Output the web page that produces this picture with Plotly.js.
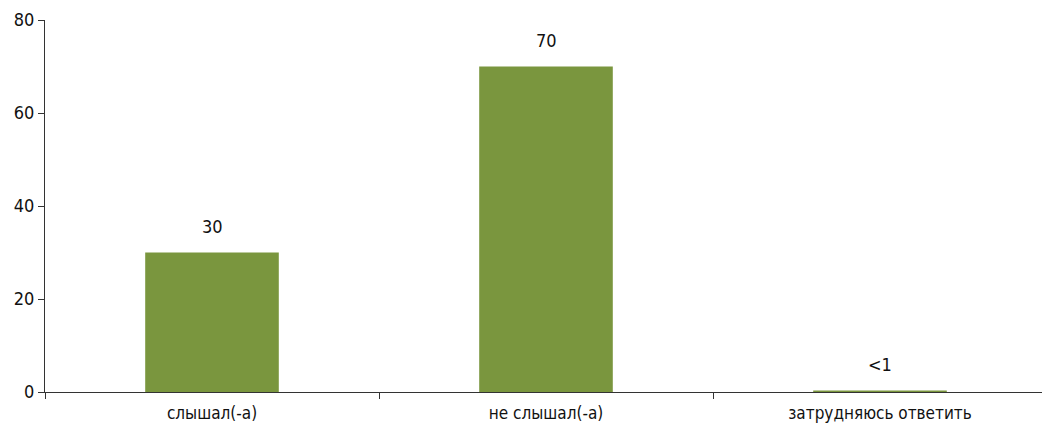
<!DOCTYPE html>
<html>
<head>
<meta charset="utf-8">
<script src="https://cdn.plot.ly/plotly-3.0.1.min.js"></script>
<style>html,body{margin:0;padding:0;background:#fff;overflow:hidden}</style>
</head>
<body>
<div id="chart" style="width:1047px;height:432px"></div>
<script>
const categories = ["слышал(-а)", "не слышал(-а)", "затрудняюсь ответить"];
const values = [30, 70, 0.3];
const valueLabels = ["30", "70", "<1"];
const yTicks = [0, 20, 40, 60, 80];

const FONT = "'DejaVu Sans Condensed', 'Open Sans', sans-serif";

const trace = {
  type: "bar",
  x: categories,
  y: values,
  marker: {color: "#7a963e"},
  hoverinfo: "skip"
};

const annotations = categories.map((c, i) => ({
  x: c, y: values[i], xref: "x", yref: "y",
  text: valueLabels[i], showarrow: false,
  yanchor: "bottom", yshift: 14,
  font: {family: FONT, size: 18, color: "#111"}
}));

const layout = {
  width: 1047, height: 432,
  margin: {l: 45, r: 0, t: 20, b: 40},
  paper_bgcolor: "#fff", plot_bgcolor: "#fff",
  bargap: 0.6,
  showlegend: false,
  font: {family: FONT, color: "#111"},
  xaxis: {
    type: "category",
    showline: true, linecolor: "#333", linewidth: 1,
    ticks: "outside", tickson: "boundaries", ticklen: 6, tickcolor: "#333",
    tickfont: {family: FONT, size: 17, color: "#111"},
    ticklabelstandoff: 6,
    showgrid: false, zeroline: false, fixedrange: true
  },
  yaxis: {
    range: [0, 80],
    tickvals: yTicks,
    showline: true, linecolor: "#333", linewidth: 1,
    ticks: "outside", ticklen: 6, tickcolor: "#333",
    tickfont: {family: FONT, size: 18, color: "#111"},
    showgrid: false, zeroline: false, fixedrange: true
  },
  annotations: annotations
};

Plotly.newPlot("chart", [trace], layout, {displayModeBar: false, staticPlot: true});
</script>
</body>
</html>
